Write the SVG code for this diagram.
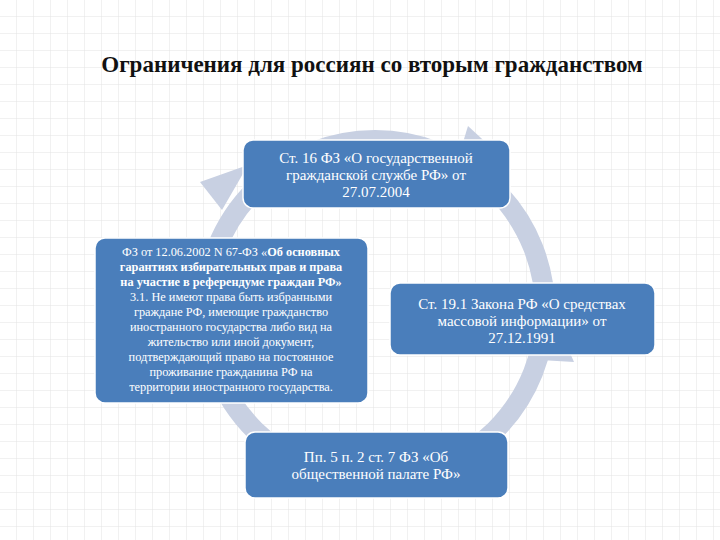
<svg xmlns="http://www.w3.org/2000/svg" width="720" height="540" viewBox="0 0 720 540">
<defs>
<pattern id="g" width="17" height="17" patternUnits="userSpaceOnUse"><path d="M17 0V17H0" fill="none" stroke="#e3e3e3" stroke-width="1"/></pattern>
<style>
.b{fill:#4a7ebb;stroke:#fff;stroke-width:1.5}
.t{font-family:"Liberation Serif","DejaVu Serif",serif;fill:#fff;text-anchor:middle}
</style>
</defs>
<rect width="720" height="540" fill="#fff"/>
<rect width="720" height="540" fill="url(#g)"/>
<text x="372" y="72" font-family="Liberation Serif, serif" font-size="23" font-weight="bold" text-anchor="middle" fill="#111">Ограничения для россиян со вторым гражданством</text>
<g id="connectors" fill="#c8d0e2">
<circle cx="375" cy="310" r="170" fill="none" stroke="#c8d0e2" stroke-width="20"/>
<polygon points="468,126 494,150 460,152"/>
<polygon points="560,330 540,360 574,362"/>
<polygon points="248,165 222,210 200,182"/>
</g>
<g id="top"><rect class="b" x="243" y="140" width="267" height="68" rx="10"/>
<text class="t" font-size="15"><tspan x="376" y="163">Ст. 16 ФЗ «О государственной</tspan><tspan x="376" y="180">гражданской службе РФ» от</tspan><tspan x="376" y="197">27.07.2004</tspan></text></g>
<g id="right"><rect class="b" x="390" y="283" width="265" height="72" rx="10"/>
<text class="t" font-size="15"><tspan x="522" y="309">Ст. 19.1 Закона РФ «О средствах</tspan><tspan x="522" y="326">массовой информации» от</tspan><tspan x="522" y="343">27.12.1991</tspan></text></g>
<g id="bottom"><rect class="b" x="245" y="432" width="263" height="66" rx="10"/>
<text class="t" font-size="15"><tspan x="376" y="462">Пп. 5 п. 2 ст. 7 ФЗ «Об</tspan><tspan x="376" y="479">общественной палате РФ»</tspan></text></g>
<g id="left"><rect class="b" x="95" y="238" width="273" height="165" rx="10"/>
<text class="t" font-size="12.3"><tspan x="231" y="256">ФЗ от 12.06.2002 N 67-ФЗ «<tspan font-weight="bold">Об основных</tspan></tspan><tspan x="231" y="271" font-weight="bold">гарантиях избирательных прав и права</tspan><tspan x="231" y="286" font-weight="bold">на участие в референдуме граждан РФ»</tspan><tspan x="231" y="301">3.1. Не имеют права быть избранными</tspan><tspan x="231" y="316">граждане РФ, имеющие гражданство</tspan><tspan x="231" y="331">иностранного государства либо вид на</tspan><tspan x="231" y="346">жительство или иной документ,</tspan><tspan x="231" y="361">подтверждающий право на постоянное</tspan><tspan x="231" y="376">проживание гражданина РФ на</tspan><tspan x="231" y="391">территории иностранного государства.</tspan></text></g>
</svg>
